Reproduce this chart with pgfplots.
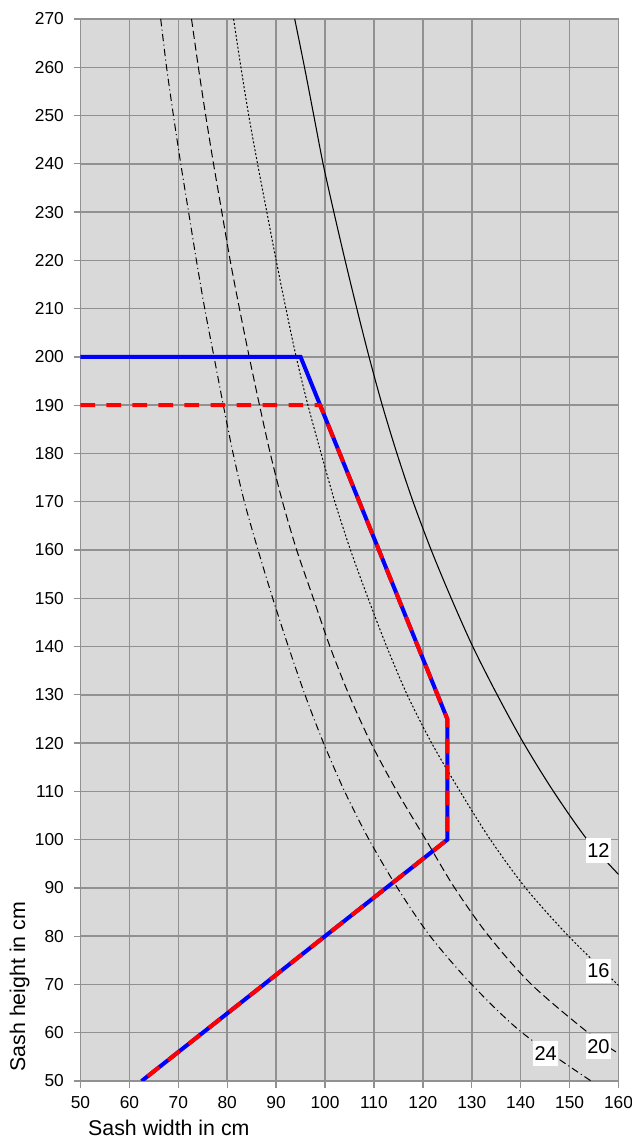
\documentclass[border=0pt]{standalone}
\usepackage{pgfplots}
\pgfplotsset{compat=1.18}
\usepackage{fontspec}
\setmainfont{Liberation Sans}
\definecolor{plotbg}{RGB}{217,217,217}
\definecolor{gridgray}{RGB}{145,145,145}

\begin{document}
\begin{tikzpicture}
\begin{axis}[
  scale only axis,
  width=403.5pt, height=796.5pt,
  xmin=50, xmax=160, ymin=50, ymax=270,
  xtick={50,60,...,160}, ytick={50,60,...,270},
  axis lines=left, axis line style={-, gridgray, line width=1.1pt},
  grid=major, major grid style={gridgray, line width=1.1pt},
  tick align=outside, major tick length=5pt,
  tick style={gridgray, line width=1pt},
  axis background/.style={fill=plotbg},
  /pgf/number format/assume math mode=true,
  ticklabel style={font=\fontsize{13}{15}\selectfont},
  xticklabel style={yshift=-3pt},
  yticklabel style={xshift=-4pt},
]
% curve 12
\addplot[black, line width=0.8pt, smooth] coordinates {
  (93.8,270) (95.8,260) (97.7,250) (99.6,240) (101.8,230) (104.1,220)
  (106.5,210) (109.0,200) (111.7,190) (114.7,180) (118.0,170) (121.7,160)
  (125.8,150) (130.2,140) (135.2,130) (140.6,120) (146.7,110) (153.6,100)
  (160,92.8)
};
% curve 16
\addplot[black, line width=0.75pt, dash pattern=on 1.5pt off 1.5pt, smooth] coordinates {
  (81.3,270) (82.8,260) (84.4,250) (86.2,240) (88.1,230) (90.0,220)
  (92.0,210) (94.1,200) (96.5,190) (99.2,180) (102.0,170) (105.2,160)
  (108.8,150) (112.6,140) (116.8,130) (121.8,120) (127.6,110) (133.8,100)
  (141.0,90) (149.8,80) (160,69.8)
};
% curve 20
\addplot[black, line width=0.75pt, dash pattern=on 6pt off 3pt, smooth] coordinates {
  (72.7,270) (74.1,260) (75.6,250) (77.2,240) (78.9,230) (80.6,220)
  (82.5,210) (84.5,200) (86.6,190) (88.8,180) (91.3,170) (94.2,160)
  (97.6,150) (101.0,140) (104.9,130) (109.4,120) (114.7,110) (120.6,100)
  (126.5,90) (133.5,80) (142.2,70) (153.8,60) (160,55.7)
};
% curve 24
\addplot[black, line width=0.75pt, dash pattern=on 5.5pt off 2.5pt on 0.8pt off 2.5pt, smooth] coordinates {
  (66.4,270) (67.6,260) (69.0,250) (70.5,240) (72.1,230) (73.7,220)
  (75.4,210) (77.3,200) (79.2,190) (81.2,180) (83.5,170) (86.3,160)
  (89.3,150) (92.5,140) (95.9,130) (99.7,120) (104.0,110) (109.0,100)
  (114.8,90) (121.5,80) (130.0,70) (140.3,60) (154.4,50)
};
% limits
\addplot[blue, line width=3pt] coordinates {
  (50,200) (95,200) (125,125) (125,100) (62.5,50)
};
\addplot[red, line width=3pt, dash pattern=on 11pt off 8.5pt] coordinates {
  (50,190) (99,190) (125,125) (125,100) (62.5,50)
};
\tikzset{curvelab/.style={fill=white, inner xsep=1.2pt, inner ysep=4pt,
  font=\fontsize{15}{17}\selectfont}}
\node[curvelab] at (axis cs:155.9,97.8) {12};
\node[curvelab] at (axis cs:155.9,72.8) {16};
\node[curvelab] at (axis cs:155.9,57.1) {20};
\node[curvelab] at (axis cs:145.1,55.7) {24};
\end{axis}
\node[anchor=base west, inner sep=0, font=\fontsize{16}{19}\selectfont]
  at (5.6pt,-40.5pt) {Sash width in cm};
\node[rotate=90, anchor=base west, inner sep=0, font=\fontsize{16}{19}\selectfont]
  at (-41.6pt,7pt) {Sash height in cm};
\pgfresetboundingbox
\path[use as bounding box] (-60.375pt,-44.25pt) rectangle (413.625pt,810.75pt);
\end{tikzpicture}
\end{document}
